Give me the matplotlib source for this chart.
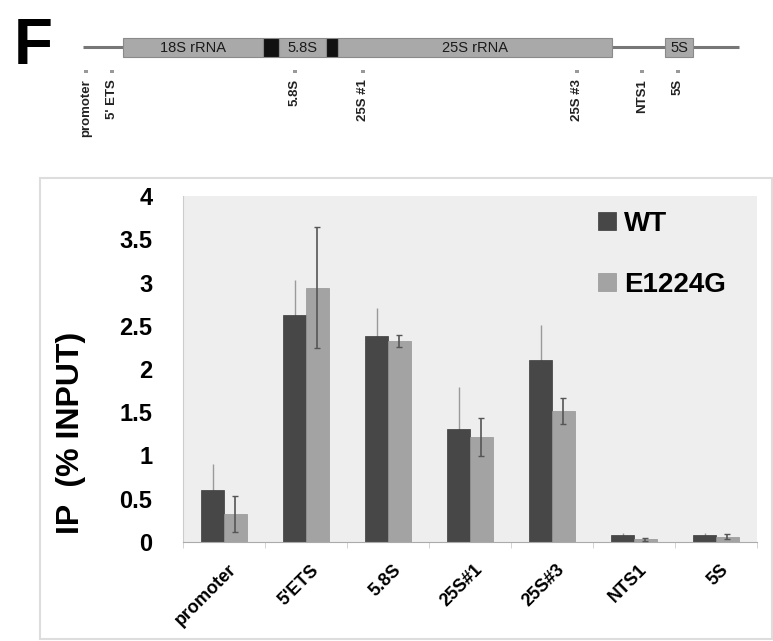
import numpy as np
import matplotlib
matplotlib.use('Agg')
import matplotlib.pyplot as plt
from matplotlib.patches import Rectangle
import matplotlib.transforms as mtransforms

plt.rcParams['font.family'] = ['Liberation Sans', 'DejaVu Sans']
plt.rcParams['font.weight'] = 'bold'

# ChIP data (% input)
categories = ['promoter', "5'ETS", '5.8S', '25S#1', '25S#3', 'NTS1', '5S']
wt = [0.60, 2.62, 2.38, 1.31, 2.10, 0.08, 0.08]
wt_err = [0.30, 0.41, 0.33, 0.48, 0.41, 0.02, 0.02]
mut = [0.32, 2.94, 2.32, 1.21, 1.51, 0.03, 0.06]
mut_err = [0.21, 0.70, 0.07, 0.22, 0.15, 0.02, 0.03]
series_names = ['WT', 'E1224G']
yticks = [0, 0.5, 1, 1.5, 2, 2.5, 3, 3.5, 4]

# rDNA schematic (pixel-ish coordinates along the locus)
locus = (83, 739)
boxes = [(123, 263, '#a9a9a9', '18S rRNA'),
         (263, 279, '#111111', ''),
         (279, 326, '#a9a9a9', '5.8S'),
         (326, 338, '#111111', ''),
         (338, 612, '#a9a9a9', '25S rRNA'),
         (665, 693, '#a9a9a9', '5S')]
primers = ['promoter', "5' ETS", '5.8S', '25S #1', '25S #3', 'NTS1', '5S']
primer_pos = [86, 112, 295, 363, 577, 642, 678]

W, H = 773, 641
fig = plt.figure(figsize=(W / 100, H / 100), dpi=100)

# background layer in pixel coords
bg = fig.add_axes([0, 0, 1, 1])
bg.set_xlim(0, W)
bg.set_ylim(H, 0)
bg.axis('off')

bg.text(14, 64, 'F', fontsize=46, fontweight='bold', ha='left', va='baseline')
bg.plot(locus, [47, 47], color='#777777', lw=2.2, solid_capstyle='butt', zorder=1)
for x0, x1, c, lab in boxes:
    bg.add_patch(Rectangle((x0, 38), x1 - x0, 19, fc=c, ec='#8a8a8a', lw=0.8, zorder=2))
    if lab:
        bg.text((x0 + x1) / 2, 48, lab, fontsize=10.5, fontweight='normal',
                color='#1a1a1a', ha='center', va='center', zorder=3)
for p, lab in zip(primer_pos, primers):
    bg.add_patch(Rectangle((p - 2, 69.5), 4, 3, fc='#999999', ec='none'))
    bg.text(p, 79, lab, rotation=90, fontsize=9.5, fontweight='bold',
            ha='center', va='top', color='#222222')

bg.add_patch(Rectangle((40, 178), 732, 461, fill=False, ec='#dddddd', lw=1.5))

# bar chart
ax = fig.add_axes([183 / W, 1 - 542 / H, (757 - 183) / W, (542 - 196) / H])
ax.set_facecolor('#eeeeee')
x = np.arange(len(categories))
bw = 0.28
ax.errorbar(x - bw / 2, wt, yerr=wt_err, fmt='none', ecolor='#9a9a9a',
            elinewidth=1, capsize=0, zorder=1)
ax.bar(x - bw / 2, wt, bw, color='#474747', edgecolor='#3a3a3a', lw=0.5,
       label=series_names[0], zorder=2)
ax.bar(x + bw / 2, mut, bw, color='#a3a3a3', edgecolor='#959595', lw=0.5,
       label=series_names[1], zorder=2)
ax.errorbar(x + bw / 2, mut, yerr=mut_err, fmt='none', ecolor='#555555',
            elinewidth=1.2, capsize=2, zorder=3)

ax.set_xlim(-0.5, len(categories) - 0.5)
ax.set_ylim(0, 4)
ax.set_yticks(yticks)
ax.set_yticklabels([f'{v:g}' for v in yticks], fontsize=17, fontweight='bold')
ax.tick_params(axis='y', length=0, pad=22)
ax.set_xticks(x)
ax.set_xticklabels(categories, rotation=45, ha='right', va='top',
                   rotation_mode='anchor', fontsize=13, fontweight='bold')
ax.set_xticks(np.arange(len(categories) + 1) - 0.5, minor=True)
ax.tick_params(axis='x', which='major', length=0, pad=14)
ax.tick_params(axis='x', which='minor', length=4, color='#cccccc')
off = mtransforms.ScaledTranslation(3 / 72, 0, fig.dpi_scale_trans)
for lbl in ax.get_xticklabels():
    lbl.set_transform(lbl.get_transform() + off)
for s in ['top', 'right']:
    ax.spines[s].set_visible(False)
ax.spines['left'].set_color('#cccccc')
ax.spines['bottom'].set_color('#aaaaaa')

leg = ax.legend(loc='upper left', bbox_to_anchor=(584 / W, 1 - 197 / H),
                bbox_transform=fig.transFigure, frameon=False,
                prop={'size': 20, 'weight': 'bold'}, handlelength=0.65,
                handleheight=0.65, handletextpad=0.3, labelspacing=1.25,
                borderpad=0)

fig.text(71 / W, 1 - 433 / H, 'IP  (% INPUT)', rotation=90, fontsize=23,
         fontweight='bold', ha='center', va='center')

fig.savefig('out.png', dpi=100)
